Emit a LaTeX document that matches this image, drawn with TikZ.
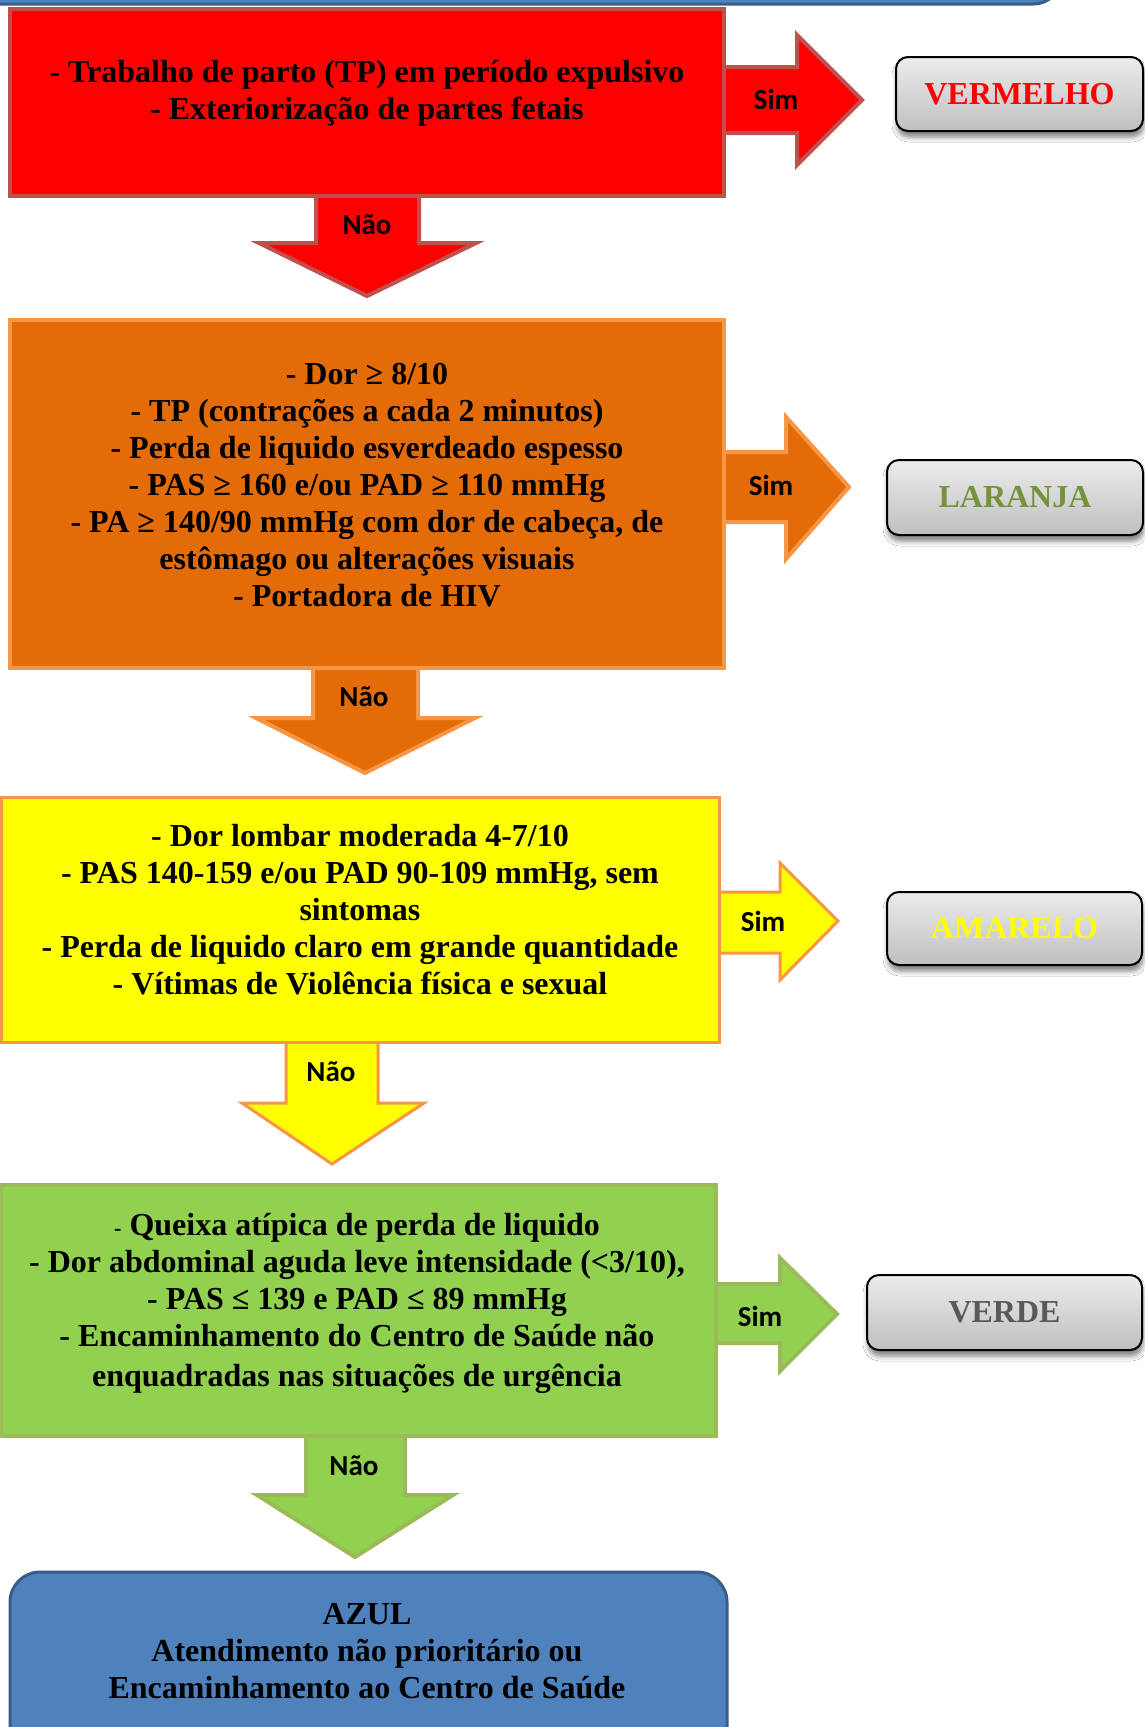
\documentclass[tikz,border=0pt]{standalone}
\usepackage{fontspec}
\setmainfont{Liberation Serif}
\newfontfamily\calib{Carlito}
\usetikzlibrary{shadows.blur}
\definecolor{cRed}{HTML}{FF0000}
\definecolor{cRedB}{HTML}{C0504D}
\definecolor{cOra}{HTML}{E36C09}
\definecolor{cOraB}{HTML}{F79646}
\definecolor{cYel}{HTML}{FFFF00}
\definecolor{cYelB}{HTML}{F79646}
\definecolor{cGre}{HTML}{92D050}
\definecolor{cGreB}{HTML}{9BBB59}
\definecolor{cBlu}{HTML}{4F81BD}
\definecolor{cBluB}{HTML}{385D8A}
\definecolor{cOlive}{HTML}{76923C}
\definecolor{cDGray}{HTML}{595959}
\begin{document}
\begin{tikzpicture}[x=1pt,y=-1pt,
  bigtext/.style={align=center, inner sep=0pt, font=\fontsize{32}{37}\selectfont\bfseries},
  lab/.style={inner sep=0pt, font=\fontsize{29}{32}\selectfont\calib\bfseries},
  cbox/.style={rectangle, inner sep=0pt, line width=4pt},
  graybox/.style={rectangle, rounded corners=12pt, draw=black, line width=2pt,
    top color=gray!15, bottom color=gray!50, inner sep=0pt,
    blur shadow={shadow xshift=1pt, shadow yshift=-6pt, shadow blur radius=5pt, shadow opacity=50},
    font=\fontsize{32}{37}\selectfont\bfseries},
  azulbox/.style={rectangle, rounded corners=30pt, draw=cBluB, line width=3pt, fill=cBlu, inner sep=0pt},
  redarr/.style={fill=cRed, draw=cRedB, line width=4pt},
  oraarr/.style={fill=cOra, draw=cOraB, line width=4pt},
  yelarr/.style={fill=cYel, draw=cYelB, line width=3pt},
  grearr/.style={fill=cGre, draw=cGreB, line width=4pt}]
\useasboundingbox (0,0) rectangle (1144,1727);
\fill[white] (0,0) rectangle (1144,1727);

% top bar (bottom of previous box)
\node[azulbox, minimum width=1103, minimum height=104] (prev) at (511.5,-48) {};

% arrows
\draw[redarr] (718,67) -- (797,67) -- (797,35) -- (862,100) -- (797,165) -- (797,133) -- (718,133) -- cycle;
\draw[redarr] (316,190) -- (316,243) -- (259,243) -- (367,296) -- (476,243) -- (419,243) -- (419,190) -- cycle;
\draw[oraarr] (718,452) -- (786,452) -- (786,417) -- (849,487) -- (786,559) -- (786,522) -- (718,522) -- cycle;
\draw[oraarr] (313,662) -- (313,718) -- (256,718) -- (365,773) -- (475,718) -- (418,718) -- (418,662) -- cycle;
\draw[yelarr] (713,892) -- (780,892) -- (780,863) -- (838,921) -- (780,980) -- (780,953) -- (713,953) -- cycle;
\draw[yelarr] (286,1036) -- (286,1103) -- (242,1103) -- (332,1164) -- (424,1103) -- (378,1103) -- (378,1036) -- cycle;
\draw[grearr] (710,1284) -- (780,1284) -- (780,1258) -- (837,1314) -- (780,1371) -- (780,1343) -- (710,1343) -- cycle;
\draw[grearr] (306,1430) -- (306,1495) -- (257,1495) -- (355,1557) -- (453,1495) -- (405,1495) -- (405,1430) -- cycle;

% colored boxes
\node[cbox, fill=cRed, draw=cRedB, minimum width=714, minimum height=187] (red) at (367,102.5) {};
\node[cbox, fill=cOra, draw=cOraB, minimum width=714, minimum height=348] (ora) at (367,494) {};
\node[cbox, fill=cYel, draw=cYelB, line width=3pt, minimum width=718, minimum height=245] (yel) at (360,919.5) {};
\node[cbox, fill=cGre, draw=cGreB, minimum width=715, minimum height=251] (gre) at (358.5,1310.5) {};
\node[azulbox, minimum width=717, minimum height=208] (azul) at (368.5,1676) {};

% texts
\node[bigtext] (tred) at (367,93) {- Trabalho de parto (TP) em período expulsivo\\- Exteriorização de partes fetais};
\node[bigtext] (tora) at (367,485) {- Dor ≥ 8/10\\- TP (contrações a cada 2 minutos)\\- Perda de liquido esverdeado espesso\\- PAS ≥ 160 e/ou PAD ≥ 110 mmHg\\- PA ≥ 140/90 mmHg com dor de cabeça, de\\estômago ou alterações visuais\\- Portadora de HIV};
\node[bigtext] (tyel) at (360,910) {- Dor lombar moderada 4-7/10\\- PAS 140-159 e/ou PAD 90-109 mmHg, sem\\sintomas\\- Perda de liquido claro em grande quantidade\\- Vítimas de Violência física e sexual};
\node[bigtext] (tgre) at (357,1303) {{\fontsize{22}{22}\selectfont -} Queixa atípica de perda de liquido\\- Dor abdominal aguda leve intensidade (<3/10),\\- PAS ≤ 139 e PAD ≤ 89 mmHg\\- Encaminhamento do Centro de Saúde não\\[3pt]enquadradas nas situações de urgência};
\node[bigtext] (tazul) at (367,1651) {AZUL\\Atendimento não prioritário ou\\Encaminhamento ao Centro de Saúde};

% Sim / Nao labels
\node[lab] (sim1) at (776,99) {Sim};
\node[lab] (sim2) at (771,485) {Sim};
\node[lab] (sim3) at (763,921) {Sim};
\node[lab] (sim4) at (760,1316) {Sim};
\node[lab] (nao1) at (367,225) {Não};
\node[lab] (nao2) at (364,697) {Não};
\node[lab] (nao3) at (331,1072) {Não};
\node[lab] (nao4) at (354,1466) {Não};

% result boxes
\node[graybox, minimum width=247, minimum height=74, text=cRed] (vermelho) at (1019.5,94) {VERMELHO};
\node[graybox, minimum width=256, minimum height=75, text=cOlive] (laranja) at (1015,497.5) {LARANJA};
\node[graybox, minimum width=255, minimum height=73, text=cYel] (amarelo) at (1014.5,928.5) {AMARELO};
\node[graybox, minimum width=275, minimum height=75, text=cDGray] (verde) at (1004.5,1312.5) {VERDE};
\end{tikzpicture}
\end{document}
